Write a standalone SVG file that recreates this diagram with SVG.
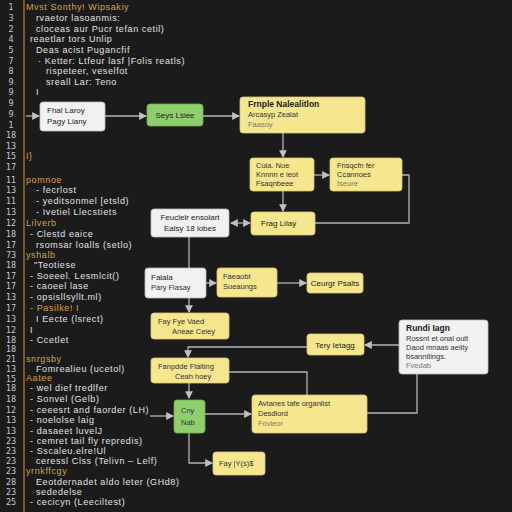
<svg xmlns="http://www.w3.org/2000/svg" width="512" height="512" viewBox="0 0 512 512">
<defs>
<style>
.ln{font-family:"DejaVu Sans",sans-serif;font-size:8px;fill:#c9c9c9;text-anchor:middle}
.cd{font-family:"Liberation Sans",sans-serif;font-size:9px;letter-spacing:0.6px;fill:#e2e2e2}
.kw{font-family:"Liberation Sans",sans-serif;font-size:9px;letter-spacing:0.6px;fill:#d9a23e}
.y{fill:#f6e78f;stroke:#d8c770;stroke-width:0.8}
.g{fill:#8fcf6b;stroke:#6fae4f;stroke-width:0.8}
.w{fill:#f1f1f1;stroke:#bdbdbd;stroke-width:0.8}
.t{font-family:"Liberation Sans",sans-serif;font-size:8px;fill:#222}
.tb{font-family:"Liberation Sans",sans-serif;font-size:8.5px;fill:#1a1a1a;font-weight:bold}
.ts{font-family:"Liberation Sans",sans-serif;font-size:7.5px;fill:#333}
.tg{font-family:"Liberation Sans",sans-serif;font-size:7.5px;fill:#7a7a6a}
.c{fill:none;stroke:#b4b4b4;stroke-width:1.3}
</style>
<marker id="ah" viewBox="0 0 8 8" refX="7" refY="4" markerWidth="6" markerHeight="6" orient="auto-start-reverse">
<path d="M0,0 L8,4 L0,8 z" fill="#c0c0c0"/>
</marker>
</defs>
<rect x="0" y="0" width="512" height="512" fill="#1b1b1b"/>
<line x1="24" y1="0" x2="24" y2="512" stroke="#b8832c" stroke-width="1.2"/>
<g id="linenumbers">
<text class="ln" x="11" y="10">1</text>
<text class="ln" x="11" y="21">3</text>
<text class="ln" x="11" y="32">2</text>
<text class="ln" x="11" y="42">4</text>
<text class="ln" x="11" y="53">5</text>
<text class="ln" x="11" y="64">7</text>
<text class="ln" x="11" y="74">8</text>
<text class="ln" x="11" y="85">9</text>
<text class="ln" x="11" y="95">9</text>
<text class="ln" x="11" y="106">9</text>
<text class="ln" x="11" y="117">9</text>
<text class="ln" x="11" y="128">1</text>
<text class="ln" x="11" y="138">18</text>
<text class="ln" x="11" y="149">13</text>
<text class="ln" x="11" y="159">15</text>
<text class="ln" x="11" y="170">17</text>
<text class="ln" x="11" y="183">11</text>
<text class="ln" x="11" y="193">13</text>
<text class="ln" x="11" y="204">11</text>
<text class="ln" x="11" y="215">13</text>
<text class="ln" x="11" y="226">12</text>
<text class="ln" x="11" y="237">18</text>
<text class="ln" x="11" y="248">17</text>
<text class="ln" x="11" y="258">73</text>
<text class="ln" x="11" y="268">18</text>
<text class="ln" x="11" y="279">17</text>
<text class="ln" x="11" y="289">17</text>
<text class="ln" x="11" y="300">13</text>
<text class="ln" x="11" y="311">17</text>
<text class="ln" x="11" y="322">13</text>
<text class="ln" x="11" y="333">12</text>
<text class="ln" x="11" y="343">18</text>
<text class="ln" x="11" y="352">18</text>
<text class="ln" x="11" y="362">21</text>
<text class="ln" x="11" y="372">13</text>
<text class="ln" x="11" y="382">15</text>
<text class="ln" x="11" y="391">18</text>
<text class="ln" x="11" y="402">18</text>
<text class="ln" x="11" y="413">12</text>
<text class="ln" x="11" y="423">13</text>
<text class="ln" x="11" y="434">13</text>
<text class="ln" x="11" y="444">23</text>
<text class="ln" x="11" y="454">23</text>
<text class="ln" x="11" y="464">23</text>
<text class="ln" x="11" y="474">23</text>
<text class="ln" x="11" y="485">28</text>
<text class="ln" x="11" y="495">23</text>
<text class="ln" x="11" y="505">25</text>
</g>
<g id="code">
<text class="kw" x="26" y="10">Mvst Sonthy! Wipsakiy</text>
<text class="cd" x="36" y="21">rvaetor lasoanmis:</text>
<text class="cd" x="36" y="32">cloceas aur Pucr tefan cetil)</text>
<text class="cd" x="30" y="42">reaetlar tors  Unlip</text>
<text class="cd" x="36" y="53">Deas acist Pugancfif</text>
<text class="cd" x="38" y="64">·  Ketter: Ltfeur lasf |Folis reatls)</text>
<text class="cd" x="46" y="74">rispeteer, veselfot</text>
<text class="cd" x="46" y="85">sreall Lar: Teno</text>
<text class="cd" x="36" y="95">I</text>
<text class="kw" x="26" y="159">I}</text>
<text class="kw" x="26" y="183">pomnoe</text>
<text class="cd" x="36" y="193">-  fecrlost</text>
<text class="cd" x="36" y="204">-  yeditsonmel [etsld)</text>
<text class="cd" x="36" y="215">-  Ivetiel Llecstiets</text>
<text class="kw" x="26" y="226">Lilverb</text>
<text class="cd" x="30" y="237">- Clestd eaice</text>
<text class="cd" x="36" y="248">rsomsar loalls (setlo)</text>
<text class="kw" x="26" y="258">yshalb</text>
<text class="cd" x="34" y="268">"Teotiese</text>
<text class="cd" x="30" y="279">- Soeeel. Lesmlcit()</text>
<text class="cd" x="30" y="289">- caoeel lase</text>
<text class="cd" x="30" y="300">- opsisllsyllt.ml)</text>
<text class="kw" x="30" y="311">- Pasilke! I</text>
<text class="cd" x="36" y="322">I  Eecte (lsrect)</text>
<text class="cd" x="30" y="333">I</text>
<text class="cd" x="30" y="343">- Ccetlet</text>
<text class="kw" x="26" y="362">snrgsby</text>
<text class="cd" x="36" y="372">Fomrealieu (ucetol)</text>
<text class="kw" x="26" y="381">Aatee</text>
<text class="cd" x="30" y="391">- wel dief tredlfer</text>
<text class="cd" x="30" y="402">- Sonvel (Gelb)</text>
<text class="cd" x="30" y="413">- ceeesrt and faorder (LH)</text>
<text class="cd" x="30" y="423">- noelolse laig</text>
<text class="cd" x="30" y="434">- dasaeet luvelJ</text>
<text class="cd" x="30" y="444">- cemret tail fly repredis)</text>
<text class="cd" x="30" y="454">- Sscaleu.elre!Ul</text>
<text class="cd" x="36" y="464">ceressl Clss (Telivn – Lelf)</text>
<text class="kw" x="26" y="474">yrnkffcgy</text>
<text class="cd" x="36" y="485">Eeotdernadet aldo leter (GHd8)</text>
<text class="cd" x="36" y="495">sededelse</text>
<text class="cd" x="30" y="505">- cecicyn (Leeciltest)</text>
</g>
<g id="connectors">
<line class="c" x1="26" y1="116" x2="39" y2="116" marker-end="url(#ah)"/>
<line class="c" x1="105" y1="116" x2="146" y2="116" marker-end="url(#ah)"/>
<line class="c" x1="203" y1="116" x2="239" y2="116" marker-end="url(#ah)"/>
<line class="c" x1="283" y1="133" x2="283" y2="157" marker-end="url(#ah)"/>
<line class="c" x1="314" y1="175" x2="329" y2="175" marker-end="url(#ah)"/>
<polyline class="c" points="402,175 409,175 409,223 315,223"/>
<line class="c" x1="283" y1="191" x2="283" y2="211" marker-end="url(#ah)"/>
<line class="c" x1="231" y1="223" x2="250" y2="223" marker-start="url(#ah)" marker-end="url(#ah)"/>
<line class="c" x1="189" y1="237" x2="189" y2="268"/>
<line class="c" x1="206" y1="283" x2="216" y2="283" marker-end="url(#ah)"/>
<line class="c" x1="189" y1="298" x2="189" y2="312" marker-end="url(#ah)"/>
<line class="c" x1="277" y1="283" x2="306" y2="283" marker-end="url(#ah)"/>
<line class="c" x1="399" y1="345" x2="365" y2="345" marker-end="url(#ah)"/>
<polyline class="c" points="307,347 188,347 188,357" marker-end="url(#ah)"/>
<polyline class="c" points="417,374 417,413 367,413"/>
<polyline class="c" points="229,372 307,372 307,395"/>
<line class="c" x1="189" y1="383" x2="189" y2="398" marker-end="url(#ah)"/>
<line class="c" x1="150" y1="416" x2="173" y2="416" marker-end="url(#ah)"/>
<line class="c" x1="205" y1="414" x2="251" y2="414" marker-end="url(#ah)"/>
<polyline class="c" points="189,433 189,463 212,463" marker-end="url(#ah)"/>
</g>
<g id="n1"><rect class="w" x="40" y="102" width="65" height="29" rx="3"/>
<text class="t" x="47" y="113">Fhal Laroy</text><text class="t" x="47" y="124">Pagy Liany</text></g>
<g id="n2"><rect class="g" x="147" y="104" width="56" height="22" rx="3"/>
<text class="t" x="175" y="118" text-anchor="middle">Seys Lsiee</text></g>
<g id="n3"><rect class="y" x="240" y="97" width="125" height="36" rx="3"/>
<text class="tb" x="248" y="107">Frnple Nalealitlon</text><text class="ts" x="248" y="117">Arcasyp Zealat</text><text class="tg" x="248" y="127">Faasoy</text></g>
<g id="n4"><rect class="y" x="250" y="158" width="64" height="33" rx="3"/>
<text class="ts" x="256" y="168">Cuia. Nue</text><text class="ts" x="256" y="177">Knnnn e ieot</text><text class="ts" x="256" y="186">Fsaqnbeee</text></g>
<g id="n5"><rect class="y" x="330" y="158" width="72" height="33" rx="3"/>
<text class="ts" x="337" y="168">Fnsqcfn fer</text><text class="ts" x="337" y="177">Ccannoes</text><text class="tg" x="337" y="186">Iseure</text></g>
<g id="n6"><rect class="y" x="251" y="212" width="64" height="23" rx="3"/>
<text class="t" x="261" y="226">Frag Lilay</text></g>
<g id="n7"><rect class="w" x="151" y="209" width="78" height="28" rx="3"/>
<text class="t" x="190" y="220" text-anchor="middle">Feuclelr ensolart</text><text class="t" x="190" y="231" text-anchor="middle">Ealsy 18 lobes</text></g>
<g id="n8"><rect class="w" x="145" y="268" width="61" height="30" rx="3"/>
<text class="t" x="151" y="280">Falala</text><text class="ts" x="151" y="290">Pary Flasay</text></g>
<g id="n9"><rect class="y" x="217" y="268" width="60" height="29" rx="3"/>
<text class="ts" x="223" y="279">Faeaobt</text><text class="ts" x="223" y="289">Sueaungs</text></g>
<g id="n10"><rect class="y" x="151" y="313" width="78" height="26" rx="3"/>
<text class="ts" x="158" y="324">Fay Fye Vaed</text><text class="ts" x="172" y="334">Aneae Ceiey</text></g>
<g id="n11"><rect class="y" x="307" y="273" width="56" height="20" rx="3"/>
<text class="t" x="335" y="286" text-anchor="middle">Ceurgr Psalts</text></g>
<g id="n12"><rect class="y" x="307" y="334" width="57" height="21" rx="3"/>
<text class="t" x="335" y="348" text-anchor="middle">Tery Ietagg</text></g>
<g id="n13"><rect class="w" x="399" y="320" width="89" height="54" rx="3"/>
<text class="tb" x="406" y="331">Rundi Iagn</text><text class="ts" x="406" y="341">Rossnt et onal oult</text><text class="ts" x="406" y="350">Daod mnaas aeiity</text><text class="ts" x="406" y="359">bsanntlings.</text><text class="tg" x="406" y="368">Fvedab</text></g>
<g id="n14"><rect class="y" x="151" y="358" width="78" height="25" rx="3"/>
<text class="ts" x="158" y="369">Fanpdde Flaiting</text><text class="ts" x="175" y="379">Ceah hoey</text></g>
<g id="n15"><rect class="y" x="252" y="395" width="115" height="38" rx="3"/>
<text class="ts" x="258" y="406">Avtanes tafe organlist</text><text class="ts" x="258" y="416">Desdlord</text><text class="tg" x="258" y="426">Fovleor</text></g>
<g id="n16"><rect class="g" x="174" y="400" width="31" height="33" rx="3"/>
<text class="ts" x="181" y="413">Cny</text><text class="ts" x="181" y="425">Nab</text></g>
<g id="n17"><rect class="y" x="213" y="452" width="52" height="23" rx="3"/>
<text class="ts" x="219" y="466">Fay |Y(s)$</text></g>
</svg>
